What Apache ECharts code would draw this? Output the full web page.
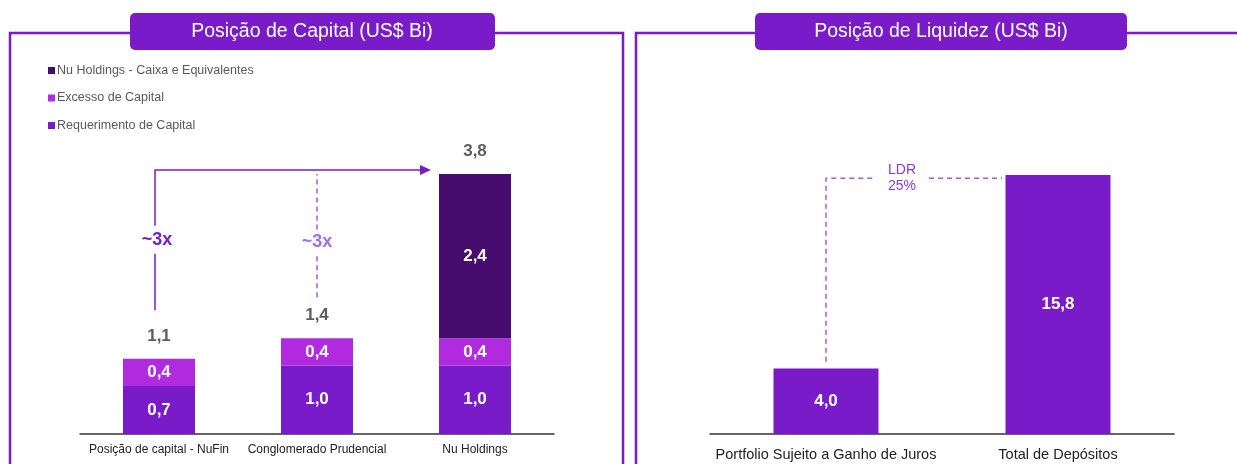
<!DOCTYPE html>
<html>
<head>
<meta charset="utf-8">
<script src="https://cdn.jsdelivr.net/npm/echarts@6/dist/echarts.min.js"></script>
<style>
  html, body { margin: 0; padding: 0; background: #fff; }
  #chart { width: 1237px; height: 464px; }
</style>
</head>
<body>
<div id="chart"></div>
<script>
	'use strict'

	/*-----data-----*/
	var capitalCategories = ['Posição de capital - NuFin', 'Conglomerado Prudencial', 'Nu Holdings'];
	var requerimento = [0.7, 1.0, 1.0];
	var excesso = [0.4, 0.4, 0.4];
	var caixa = [null, null, 2.4];
	var capitalTotals = [1.1, 1.4, 3.8];

	var liquidezCategories = ['Portfolio Sujeito a Ganho de Juros', 'Total de Depósitos'];
	var liquidezValues = [4.0, 15.8];

	var purple = '#7a1bc9';
	var font = '"Liberation Sans", Arial, sans-serif';

	function fmt(p) {
		var v = p.value;
		if (v == null) return '';
		return v.toFixed(1).replace('.', ',');
	}

	var insideLabel = {
		show: true,
		position: 'inside',
		color: '#fff',
		fontWeight: 'bold',
		fontSize: 17,
		fontFamily: font,
		formatter: fmt
	};

	var chart = echarts.init(document.getElementById('chart'));
	var option = {
		animation: false,
		textStyle: { fontFamily: font },
		legend: {
			orient: 'vertical',
			left: 43,
			top: 59,
			itemWidth: 7,
			itemHeight: 7,
			itemGap: 14.5,
			icon: 'rect',
			data: ['Nu Holdings - Caixa e Equivalentes', 'Excesso de Capital', 'Requerimento de Capital'],
			textStyle: { color: '#595959', fontSize: 12.5, fontFamily: font, padding: [0, 0, 0, -3] }
		},
		grid: [
			{ left: 80, width: 474, top: 92, bottom: 30 },
			{ left: 710, width: 464, top: 106, bottom: 30 }
		],
		xAxis: [{
			gridIndex: 0,
			type: 'category',
			data: capitalCategories,
			axisTick: { show: false },
			axisLine: { lineStyle: { color: '#333', width: 1.5 } },
			axisLabel: { color: '#222', fontSize: 12, margin: 10, interval: 0, fontFamily: font }
		}, {
			gridIndex: 1,
			type: 'category',
			data: liquidezCategories,
			axisTick: { show: false },
			axisLine: { lineStyle: { color: '#333', width: 1.5 } },
			axisLabel: { color: '#222', fontSize: 14.5, margin: 13, interval: 0, fontFamily: font }
		}],
		yAxis: [
			{ gridIndex: 0, type: 'value', min: 0, max: 5, show: false },
			{ gridIndex: 1, type: 'value', min: 0, max: 20, show: false }
		],
		series: [{
			name: 'Requerimento de Capital',
			type: 'bar',
			stack: 'cap',
			barWidth: 72,
			data: requerimento,
			itemStyle: { color: purple },
			label: insideLabel
		}, {
			name: 'Excesso de Capital',
			type: 'bar',
			stack: 'cap',
			data: excesso,
			itemStyle: { color: '#b02ae0' },
			label: insideLabel
		}, {
			name: 'Nu Holdings - Caixa e Equivalentes',
			type: 'bar',
			stack: 'cap',
			data: caixa,
			itemStyle: { color: '#460c6e' },
			label: insideLabel
		}, {
			name: 'Total',
			type: 'scatter',
			data: capitalTotals,
			symbolSize: 0,
			silent: true,
			label: {
				show: true,
				position: 'top',
				distance: 14,
				color: '#333',
				fontWeight: 'bold',
				fontSize: 17,
				fontFamily: font,
				formatter: fmt
			}
		}, {
			name: 'Liquidez',
			type: 'bar',
			xAxisIndex: 1,
			yAxisIndex: 1,
			barWidth: 105,
			data: liquidezValues,
			itemStyle: { color: purple },
			label: insideLabel
		}]
	};
	chart.setOption(option);

	/*-----annotations-----*/
	function px(g, x, y) {
		return chart.convertToPixel({ xAxisIndex: g, yAxisIndex: g }, [x, y]);
	}
	var a0 = px(0, 0, 3.86);
	var aBottom = px(0, 0, 1.81);
	var aLabel = px(0, 0, 2.84);
	var b1 = px(0, 1, 2.0);
	var bLabel = px(0, 1, 2.8);
	var c2 = px(0, 2, 3.86);
	var ax = a0[0] - 4;
	var arrowEnd = c2[0] - 55;

	var l0 = px(1, 0, 15.6);
	var lBottom = px(1, 0, 4.4);
	var l1 = px(1, 1, 15.6);
	var ldrMid = (l0[0] + l1[0]) / 2 - 40;

	var lineStyle = { stroke: purple, lineWidth: 1.5 };
	var dashStyle = { stroke: '#a259e6', lineWidth: 1.5, lineDash: [5, 4] };

	chart.setOption({
		graphic: [
			// frames
			{ type: 'polyline', shape: { points: [[10, 470], [10, 33], [623, 33], [623, 470]] }, style: { stroke: purple, lineWidth: 2.5, fill: null } },
			{ type: 'polyline', shape: { points: [[636, 470], [636, 33], [1245, 33]] }, style: { stroke: purple, lineWidth: 2.5, fill: null } },
			// title boxes
			{ type: 'rect', shape: { x: 130, y: 13, width: 365, height: 37, r: 5 }, style: { fill: purple } },
			{ type: 'text', x: 312, y: 32, style: { text: 'Posição de Capital (US$ Bi)', fill: '#fff', font: '19.5px ' + font, align: 'center', verticalAlign: 'middle' } },
			{ type: 'rect', shape: { x: 755, y: 13, width: 372, height: 37, r: 5 }, style: { fill: purple } },
			{ type: 'text', x: 941, y: 32, style: { text: 'Posição de Liquidez (US$ Bi)', fill: '#fff', font: '19.5px ' + font, align: 'center', verticalAlign: 'middle' } },
			// solid arrow ~3x
			{ type: 'line', shape: { x1: ax, y1: aBottom[1], x2: ax, y2: aLabel[1] + 14 }, style: lineStyle },
			{ type: 'polyline', shape: { points: [[ax, aLabel[1] - 14], [ax, a0[1]], [arrowEnd, a0[1]]] }, style: { stroke: purple, lineWidth: 1.5, fill: null } },
			{ type: 'polygon', shape: { points: [[arrowEnd, a0[1] - 5], [arrowEnd + 11, a0[1]], [arrowEnd, a0[1] + 5]] }, style: { fill: purple } },
			{ type: 'text', x: ax + 2, y: aLabel[1], style: { text: '~3x', fill: purple, font: 'bold 18px ' + font, align: 'center', verticalAlign: 'middle' } },
			// dashed ~3x
			{ type: 'line', shape: { x1: b1[0], y1: b1[1], x2: b1[0], y2: bLabel[1] + 13 }, style: dashStyle },
			{ type: 'line', shape: { x1: b1[0], y1: bLabel[1] - 13, x2: b1[0], y2: a0[1] + 4 }, style: dashStyle },
			{ type: 'text', x: b1[0], y: bLabel[1], style: { text: '~3x', fill: '#a66ee6', font: 'bold 18px ' + font, align: 'center', verticalAlign: 'middle' } },
			// LDR
			{ type: 'polyline', shape: { points: [[l0[0], lBottom[1]], [l0[0], l0[1]], [ldrMid - 26, l0[1]]] }, style: { stroke: '#a259e6', lineWidth: 1.5, lineDash: [5, 4], fill: null } },
			{ type: 'line', shape: { x1: ldrMid + 27, y1: l0[1], x2: l1[0] - 56, y2: l0[1] }, style: dashStyle },
			{ type: 'text', x: ldrMid, y: l0[1] - 8, style: { text: 'LDR', fill: '#8a3ad6', font: '14px ' + font, align: 'center', verticalAlign: 'middle' } },
			{ type: 'text', x: ldrMid, y: l0[1] + 8, style: { text: '25%', fill: '#8a3ad6', font: '14px ' + font, align: 'center', verticalAlign: 'middle' } }
		]
	});
</script>
</body>
</html>
